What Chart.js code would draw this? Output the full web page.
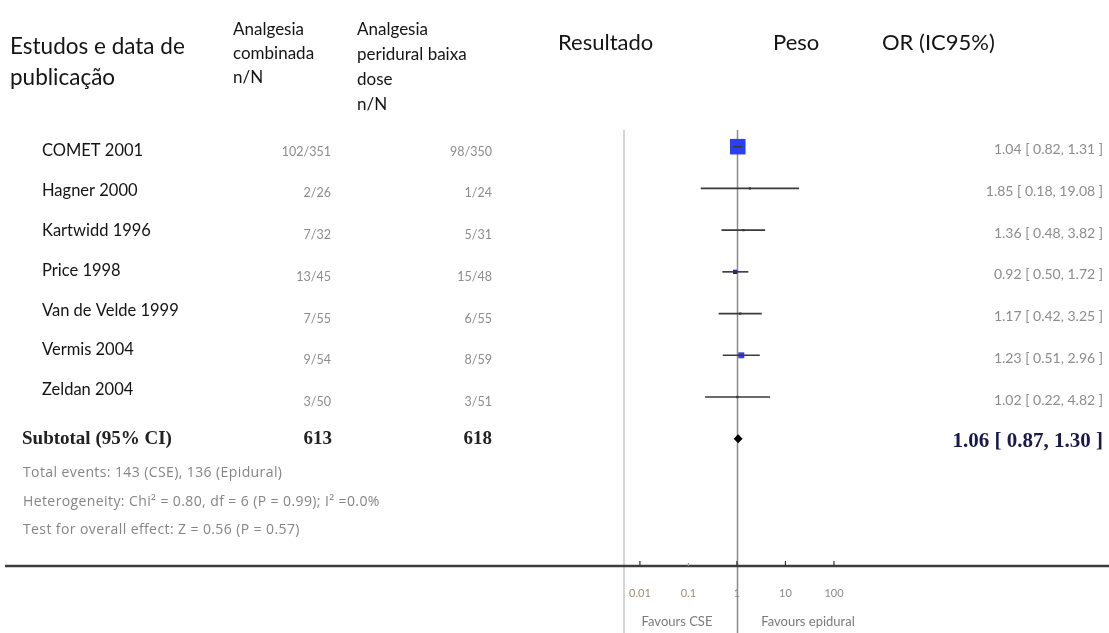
<!doctype html>
<html>
<head>
<meta charset="utf-8" />
<title>Forest plot</title>
<script src="https://cdn.jsdelivr.net/npm/chart.js"></script>
<style>
  html, body { margin: 0; padding: 0; background: #fff; }
  #wrap { width: 1109px; height: 633px; position: relative; }
</style>
</head>
<body>
<div id="wrap"><canvas id="forest"></canvas></div>
<script>
// data
const studies = ['COMET 2001', 'Hagner 2000', 'Kartwidd 1996', 'Price 1998', 'Van de Velde 1999', 'Vermis 2004', 'Zeldan 2004'];
const cseCounts = ['102/351', '2/26', '7/32', '13/45', '7/55', '9/54', '3/50'];
const epiCounts = ['98/350', '1/24', '5/31', '15/48', '6/55', '8/59', '3/51'];
const oddsRatio = [1.04, 1.85, 1.36, 0.92, 1.17, 1.23, 1.02];
const ciLow = [0.82, 0.18, 0.48, 0.50, 0.42, 0.51, 0.22];
const ciHigh = [1.31, 19.08, 3.82, 1.72, 3.25, 2.96, 4.82];
const totalCse = 613;
const totalEpi = 618;
const pooledOR = 1.06;
const pooledLow = 0.87;
const pooledHigh = 1.30;
const tickValues = [0.01, 0.1, 1, 10, 100];
const tickLabels = ['0.01', '0.1', '1', '10', '100'];
const footnotes = [
  'Total events: 143 (CSE), 136 (Epidural)',
  'Heterogeneity: Chi\u00b2 = 0.80, df = 6 (P = 0.99); I\u00b2 =0.0%',
  'Test for overall effect: Z = 0.56 (P = 0.57)'
];

// marker styling (size ~ study weight)
const boxRadius = [11, 1.6, 1.6, 3, 1.6, 4.2, 1.6];
const boxColor = ['#2b3ff2', '#333', '#333', '#1c1c8a', '#333', '#3a3af0', '#333'];

const subtotalRow = studies.length;
const fmt = v => v.toFixed(2);
const orText = oddsRatio.map((v, i) => fmt(v) + ' [ ' + fmt(ciLow[i]) + ', ' + fmt(ciHigh[i]) + ' ]');

const ciDatasets = studies.map((s, i) => ({
  type: 'line',
  label: s,
  data: [{ x: ciLow[i], y: i }, { x: ciHigh[i], y: i }],
  borderColor: '#3a3a3a',
  borderWidth: 1.6,
  pointRadius: 0,
  order: 0
}));

const LATO = 'Lato, "Noto Sans", sans-serif';
const OPEN = '"Open Sans", "Noto Sans", sans-serif';
const SERIF = '"Liberation Serif", "DejaVu Serif", serif';

const tablePlugin = {
  id: 'table',
  beforeDatasetsDraw(chart) {
    const { ctx, chartArea, scales: { x } } = chart;
    const H = chart.height;
    ctx.save();
    // left border of plot panel
    ctx.strokeStyle = '#d4d4d4';
    ctx.lineWidth = 2;
    ctx.beginPath();
    ctx.moveTo(chartArea.left, chartArea.top);
    ctx.lineTo(chartArea.left, H);
    ctx.stroke();
    // line of no effect
    const x1 = Math.round(x.getPixelForValue(1)) + 0.5;
    ctx.strokeStyle = '#8a8a8a';
    ctx.lineWidth = 1.5;
    ctx.beginPath();
    ctx.moveTo(x1, chartArea.top);
    ctx.lineTo(x1, H);
    ctx.stroke();
    ctx.restore();
  },
  afterDraw(chart) {
    const { ctx, chartArea, scales: { x, y } } = chart;
    ctx.save();
    ctx.textBaseline = 'middle';

    // headers
    ctx.fillStyle = '#141414';
    ctx.textAlign = 'left';
    ctx.font = '22.5px ' + LATO;
    ctx.fillText('Estudos e data de', 10, 47);
    ctx.fillText('publica\u00e7\u00e3o', 10, 78);
    ctx.font = '22px ' + LATO;
    ctx.fillText('Resultado', 558, 43);
    ctx.fillText('Peso', 773, 43);
    ctx.fillText('OR (IC95%)', 882, 43);
    ctx.font = '17px ' + LATO;
    ['Analgesia', 'combinada', 'n/N'].forEach((t, i) => ctx.fillText(t, 233, 30 + i * 24));
    ['Analgesia', 'peridural baixa', 'dose', 'n/N'].forEach((t, i) => ctx.fillText(t, 357, 30 + i * 25));

    // study rows
    studies.forEach((s, i) => {
      const yp = y.getPixelForValue(i);
      ctx.textAlign = 'left';
      ctx.fillStyle = '#141414';
      ctx.font = '16.5px ' + LATO;
      ctx.fillText(s, 42, 151 + i * 39.8);
      ctx.fillStyle = '#8c8c8c';
      ctx.font = '12.5px ' + LATO;
      ctx.textAlign = 'right';
      ctx.fillText(cseCounts[i], 331, yp + 5);
      ctx.fillText(epiCounts[i], 492, yp + 5);
      ctx.font = '14px ' + LATO;
      ctx.fillText(orText[i], 1103, yp + 3);
    });

    // subtotal row
    const ys = y.getPixelForValue(subtotalRow);
    ctx.fillStyle = '#222';
    ctx.font = 'bold 19px ' + SERIF;
    ctx.textAlign = 'left';
    ctx.fillText('Subtotal (95% CI)', 22, ys);
    ctx.textAlign = 'right';
    ctx.fillText(String(totalCse), 332, ys);
    ctx.fillText(String(totalEpi), 492, ys);
    ctx.fillStyle = '#1a1a4a';
    ctx.font = 'bold 21px ' + SERIF;
    ctx.fillText(fmt(pooledOR) + ' [ ' + fmt(pooledLow) + ', ' + fmt(pooledHigh) + ' ]', 1103, ys + 3);

    // footnotes
    ctx.fillStyle = '#858585';
    ctx.font = '14px ' + OPEN;
    ctx.letterSpacing = '0.4px';
    ctx.textAlign = 'left';
    footnotes.forEach((t, i) => ctx.fillText(t, 23, [473, 502, 530][i]));
    ctx.letterSpacing = '0px';

    // bottom axis
    const ya = chartArea.bottom;
    ctx.strokeStyle = '#3c3c3c';
    ctx.lineWidth = 2.5;
    ctx.beginPath();
    ctx.moveTo(5, ya);
    ctx.lineTo(chart.width, ya);
    ctx.stroke();
    ctx.lineWidth = 1.2;
    ctx.font = '11px ' + LATO;
    ctx.textAlign = 'center';
    tickValues.forEach((v, i) => {
      const xp = x.getPixelForValue(v);
      ctx.strokeStyle = v === 0.1 ? '#999' : '#333';
      ctx.beginPath();
      ctx.moveTo(xp, ya);
      ctx.lineTo(xp, ya - (v === 0.1 ? 3 : 5));
      ctx.stroke();
      ctx.fillStyle = v < 1 ? '#a08c78' : '#8a8a8a';
      ctx.fillText(tickLabels[i], xp, ya + 27);
    });
    ctx.fillStyle = '#7a7a7a';
    ctx.font = '13px ' + LATO;
    ctx.fillText('Favours CSE', 677, ya + 56);
    ctx.fillText('Favours epidural', 808, ya + 56);
    ctx.restore();
  }
};

new Chart(document.getElementById('forest'), {
  type: 'scatter',
  data: {
    datasets: [
      ...ciDatasets,
      {
        label: 'OR',
        data: oddsRatio.map((v, i) => ({ x: v, y: i })),
        pointStyle: 'rect',
        pointRadius: boxRadius,
        backgroundColor: boxColor,
        borderWidth: 0,
        order: 1
      },
      {
        label: 'Subtotal',
        data: [{ x: pooledOR, y: subtotalRow }],
        pointStyle: 'rectRot',
        pointRadius: 4.5,
        backgroundColor: '#000',
        borderWidth: 0,
        order: 1
      }
    ]
  },
  options: {
    responsive: true,
    maintainAspectRatio: false,
    animation: false,
    layout: { padding: { left: 624, right: 229, top: 130, bottom: 67 } },
    plugins: { legend: { display: false }, tooltip: { enabled: false } },
    scales: {
      x: { type: 'logarithmic', min: 0.0047, max: 890, bounds: 'data', display: false },
      y: { type: 'linear', min: -0.4, max: 10.05, reverse: true, display: false }
    }
  },
  plugins: [tablePlugin]
});
</script>
</body>
</html>
